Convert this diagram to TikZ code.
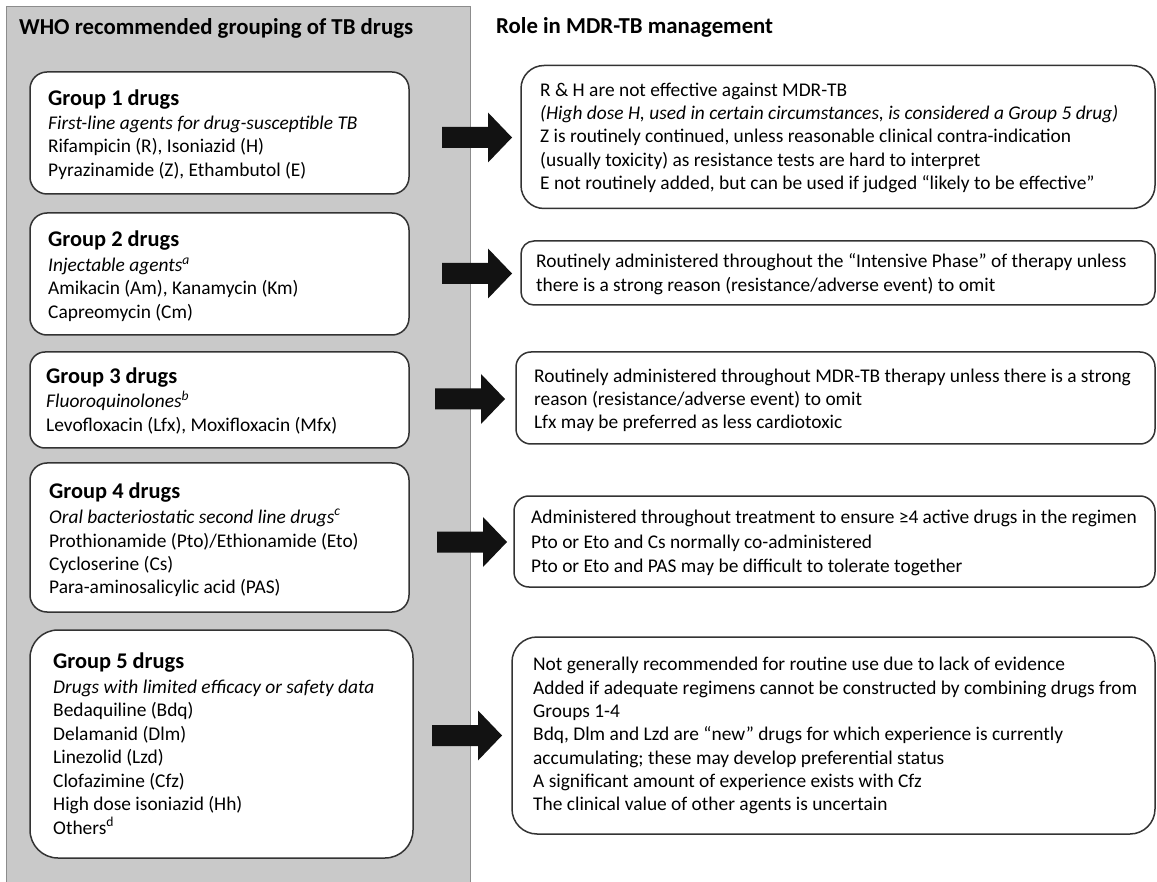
\documentclass[tikz,border=0pt]{standalone}
\usepackage{fontspec}
\setmainfont{Carlito}
\definecolor{panelgray}{gray}{0.79}
\definecolor{panelline}{gray}{0.55}
\definecolor{boxline}{gray}{0.2}
\definecolor{arrowblack}{gray}{0.07}
\begin{document}
\begin{tikzpicture}[x=1pt,y=-1pt,
  panel/.style={fill=panelgray,draw=panelline,line width=1pt},
  card/.style={draw=boxline,fill=white,line width=1.5pt,anchor=north west,inner sep=0pt,outer sep=0pt},
  title/.style={font=\bfseries\fontsize{22.8}{27}\selectfont,anchor=base west,inner sep=0pt},
  head/.style={font=\bfseries\fontsize{22.4}{27}\selectfont,anchor=base west,inner sep=0pt},
  body/.style={font=\fontsize{19.4}{23.3}\selectfont,anchor=base west,inner sep=0pt},
  blockarrow/.style={fill=arrowblack,draw=none}]
\useasboundingbox (0,0) rectangle (1157,882);
\fill[white] (0,0) rectangle (1157,882);
% left panel
\path[panel] (6,7) rectangle (470,892);
\node[title] (tl) at (19,35) {WHO recommended grouping of TB drugs};
\node[title] (tr) at (496,34) {Role in MDR-TB management};
% ---- left cards
\node[card,rounded corners=17pt,minimum width=379pt,minimum height=122pt] (g1) at (30,72) {};
\node[head] (g1h) at (48,106) {Group 1 drugs};
\node[body] (g1a) at (48,130) {\itshape First-line agents for drug-susceptible TB};
\node[body] (g1b) at (48,153) {Rifampicin (R), Isoniazid (H)};
\node[body] (g1c) at (48,177) {Pyrazinamide (Z), Ethambutol (E)};

\node[card,rounded corners=17pt,minimum width=379pt,minimum height=122pt] (g2) at (30,213) {};
\node[head] (g2h) at (48,247) {Group 2 drugs};
\node[body] (g2a) at (48,272) {\itshape Injectable agents\textsuperscript{a}};
\node[body] (g2b) at (48,295) {Amikacin (Am), Kanamycin (Km)};
\node[body] (g2c) at (48,319) {Capreomycin (Cm)};

\node[card,rounded corners=15pt,minimum width=379pt,minimum height=96pt] (g3) at (30,352) {};
\node[head] (g3h) at (46,384) {Group 3 drugs};
\node[body] (g3a) at (46,408) {\itshape Fluoroquinolones\textsuperscript{b}};
\node[body] (g3b) at (46,432) {Levofloxacin (Lfx), Moxifloxacin (Mfx)};

\node[card,rounded corners=17pt,minimum width=379pt,minimum height=149pt] (g4) at (30,463) {};
\node[head] (g4h) at (49,498) {Group 4 drugs};
\node[body] (g4a) at (49,523) {\itshape Oral bacteriostatic second line drugs\textsuperscript{c}};
\node[body] (g4b) at (49,547) {Prothionamide (Pto)/Ethionamide (Eto)};
\node[body] (g4c) at (49,570) {Cycloserine (Cs)};
\node[body] (g4d) at (49,593) {Para-aminosalicylic acid (PAS)};

\node[card,rounded corners=28pt,minimum width=383pt,minimum height=228pt] (g5) at (30,630) {};
\node[head] (g5h) at (53,668) {Group 5 drugs};
\node[body] (g5a) at (53,693) {\itshape Drugs with limited efficacy or safety data};
\node[body] (g5b) at (53,716.5) {Bedaquiline (Bdq)};
\node[body] (g5c) at (53,740) {Delamanid (Dlm)};
\node[body] (g5d) at (53,763.5) {Linezolid (Lzd)};
\node[body] (g5e) at (53,787) {Clofazimine (Cfz)};
\node[body] (g5f) at (53,810.5) {High dose isoniazid (Hh)};
\node[body] (g5g) at (53,834) {Others\textsuperscript{d}};
% ---- right cards
\node[card,rounded corners=23pt,minimum width=634pt,minimum height=143pt] (r1) at (521,65.5) {};
\node[body] (r1a) at (540,97) {R \& H are not effective against MDR-TB};
\node[body] (r1b) at (540,120) {\itshape (High dose H, used in certain circumstances, is considered a Group 5 drug)};
\node[body] (r1c) at (540,143) {Z is routinely continued, unless reasonable clinical contra-indication};
\node[body] (r1d) at (540,167) {(usually toxicity) as resistance tests are hard to interpret};
\node[body] (r1e) at (540,190) {E not routinely added, but can be used if judged “likely to be effective”};

\node[card,rounded corners=13pt,minimum width=634pt,minimum height=64pt] (r2) at (521,241) {};
\node[body] (r2a) at (536,268) {Routinely administered throughout the “Intensive Phase” of therapy unless};
\node[body] (r2b) at (536,292) {there is a strong reason (resistance/adverse event) to omit};

\node[card,rounded corners=15pt,minimum width=639pt,minimum height=92pt] (r3) at (516,352) {};
\node[body] (r3a) at (534,383) {Routinely administered throughout MDR-TB therapy unless there is a strong};
\node[body] (r3b) at (534,406) {reason (resistance/adverse event) to omit};
\node[body] (r3c) at (534,429) {Lfx may be preferred as less cardiotoxic};

\node[card,rounded corners=15pt,minimum width=641pt,minimum height=91pt] (r4) at (514,496) {};
\node[body] (r4a) at (531,523) {Administered throughout treatment to ensure ≥4 active drugs in the regimen};
\node[body] (r4b) at (531,548) {Pto or Eto and Cs normally co-administered};
\node[body] (r4c) at (531,572) {Pto or Eto and PAS may be difficult to tolerate together};

\node[card,rounded corners=25pt,minimum width=643pt,minimum height=197pt] (r5) at (512,637) {};
\node[body] (r5a) at (533,670) {Not generally recommended for routine use due to lack of evidence};
\node[body] (r5b) at (533,694) {Added if adequate regimens cannot be constructed by combining drugs from};
\node[body] (r5c) at (533,717) {Groups 1-4};
\node[body] (r5d) at (533,740) {Bdq, Dlm and Lzd are “new” drugs for which experience is currently};
\node[body] (r5e) at (533,764) {accumulating; these may develop preferential status};
\node[body] (r5f) at (533,787) {A significant amount of experience exists with Cfz};
\node[body] (r5g) at (533,810) {The clinical value of other agents is uncertain};
% ---- block arrows (tail point named)
\coordinate (a1) at (442,137.5);
\coordinate (a2) at (442,273.5);
\coordinate (a3) at (435,399);
\coordinate (a4) at (437,542);
\coordinate (a5) at (432,735.5);
\foreach \a in {a1,a2,a3,a4,a5}{
  \fill[blockarrow] (\a) ++(0,-10.5) -- ++(46,0) -- ++(0,-14.5) -- ++(24,25)
    -- ++(-24,25) -- ++(0,-14.5) -- ++(-46,0) -- cycle;
}
\end{tikzpicture}
\end{document}
